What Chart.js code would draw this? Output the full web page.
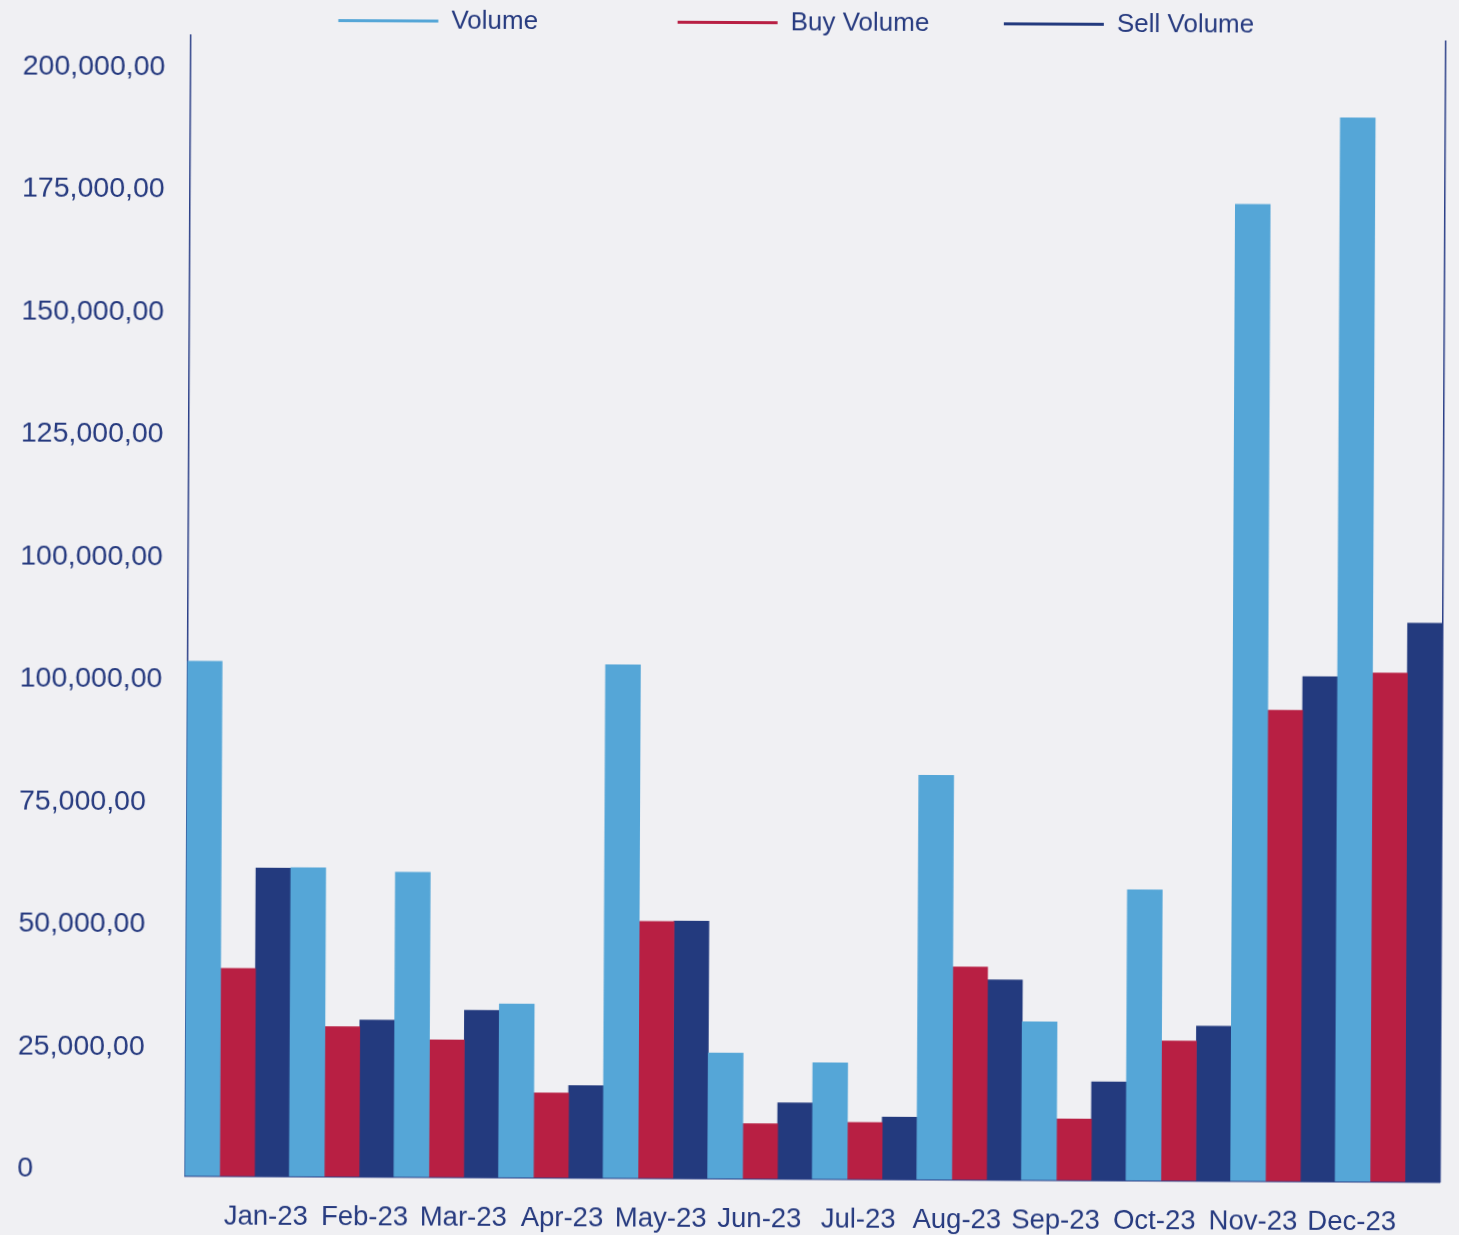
<!DOCTYPE html>
<html>
<head>
<meta charset="utf-8">
<script src="https://cdn.jsdelivr.net/npm/chart.js@4.4.1/dist/chart.umd.min.js"></script>
<style>
  html, body { margin: 0; padding: 0; background: #f0f0f3; overflow: hidden; }
  #wrap { width: 1459px; height: 1235px; transform: rotate(0.28deg); }
  canvas { display: block; }
</style>
</head>
<body>
<div id="wrap"><canvas id="chart" width="1459" height="1235"></canvas></div>
<script>
// Monthly trading volumes, 2023
const months = ['Jan-23', 'Feb-23', 'Mar-23', 'Apr-23', 'May-23', 'Jun-23',
                'Jul-23', 'Aug-23', 'Sep-23', 'Oct-23', 'Nov-23', 'Dec-23'];
const volume     = [105000, 63000, 62200, 35400, 104700, 25600, 23700, 82500, 32300, 59300, 199300, 217000];
const buyVolume  = [ 42400, 30600, 28000, 17300,  52400, 11200, 11600, 43400, 12500, 28500,  96100, 103800];
const sellVolume = [ 62900, 32000, 34100, 18800,  52500, 15500, 12700, 40800, 20100, 31600, 103000, 114000];
const seriesNames = ['Volume', 'Buy Volume', 'Sell Volume'];
const yTickLabels = ['0', '25,000,00', '50,000,00', '75,000,00', '100,000,00',
                     '100,000,00', '125,000,00', '150,000,00', '175,000,00', '200,000,00'];

const INK = '#263a7f';
const AXIS = '#2c4088';
const FONT = "'Liberation Sans', Arial, sans-serif";
const Y_STEP = 25000;

// extra trailing room after each legend entry, in spaces
const legendTrail = [18, 9, 6];

Chart.defaults.font.family = FONT;
Chart.defaults.color = INK;

new Chart(document.getElementById('chart'), {
  type: 'bar',
  data: {
    labels: months,
    datasets: [
      { label: seriesNames[0], data: volume,     backgroundColor: '#55a6d7' },
      { label: seriesNames[1], data: buyVolume,  backgroundColor: '#b81f43' },
      { label: seriesNames[2], data: sellVolume, backgroundColor: '#233a7e' }
    ].map(d => Object.assign(d, {
      xAxisID: 'x', yAxisID: 'y',
      categoryPercentage: 1, barPercentage: 1, borderWidth: 0
    }))
  },
  options: {
    responsive: false,
    devicePixelRatio: 1,
    animation: false,
    layout: { padding: { left: 20, right: 16.5, top: 0, bottom: 0 } },
    plugins: {
      tooltip: { enabled: false },
      legend: {
        position: 'top',
        fullSize: false,
        align: 'center',
        maxHeight: 38,
        labels: {
          boxWidth: 100,
          boxHeight: 3,
          padding: 9.5,
          color: INK,
          font: { size: 26, family: FONT },
          generateLabels: (chart) => chart.data.datasets.map((ds, i) => ({
            text: ds.label + ' '.repeat(legendTrail[i]),
            fillStyle: ds.backgroundColor,
            strokeStyle: ds.backgroundColor,
            lineWidth: 0,
            fontColor: INK,
            datasetIndex: i,
            hidden: false
          }))
        }
      }
    },
    scales: {
      x: {
        type: 'category',
        display: false,
        offset: true
      },
      // month captions along the bottom edge
      x2: {
        type: 'linear',
        position: 'bottom',
        offset: false,
        bounds: 'data',
        min: -0.8236,
        max: 11.89,
        grid: { display: false, drawTicks: false, offset: false },
        border: { display: true, color: AXIS, width: 1.5 },
        afterBuildTicks: (axis) => { axis.ticks = months.map((m, i) => ({ value: i })); },
        afterFit: (axis) => { axis.height = 56.4; },
        ticks: {
          autoSkip: false,
          maxRotation: 0,
          minRotation: 0,
          padding: 24.5,
          color: INK,
          font: { size: 27.5, family: FONT, lineHeight: 1.2 },
          callback: (v) => months[v] ?? ''
        }
      },
      y: {
        position: 'left',
        bounds: 'data',
        min: 0,
        max: 232700,
        grid: { display: false, drawTicks: false },
        border: { display: true, color: AXIS, width: 1.5 },
        afterFit: (axis) => { axis.width = 167.5; },
        afterBuildTicks: (axis) => { axis.ticks = yTickLabels.map((t, i) => ({ value: i * Y_STEP })); },
        ticks: {
          autoSkip: false,
          crossAlign: 'far',
          labelOffset: -6,
          color: INK,
          font: { size: 28.5, family: FONT },
          callback: (v) => yTickLabels[Math.round(v / Y_STEP)] ?? ''
        }
      },
      // right-hand frame line
      y2: {
        position: 'right',
        min: 0,
        max: 1,
        grid: { display: false, drawTicks: false },
        border: { display: true, color: AXIS, width: 1.5 },
        ticks: { display: false }
      }
    }
  }
});
</script>
</body>
</html>
